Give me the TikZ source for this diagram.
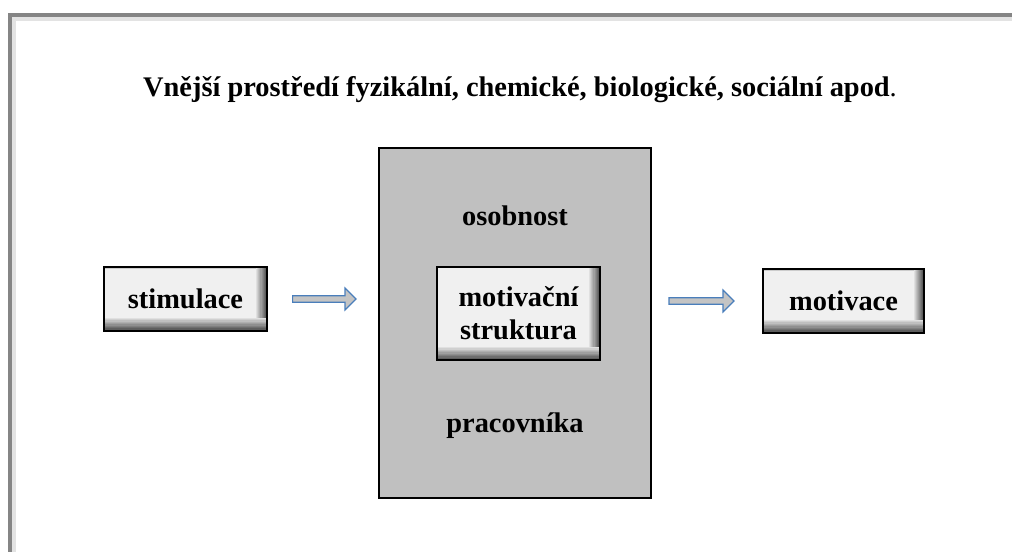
\documentclass[tikz,border=0pt]{standalone}
\usepackage{fontspec}
\setmainfont{Liberation Serif}
\usepackage[HTML]{xcolor}
\usetikzlibrary{positioning, calc}

\definecolor{bodyfill}{HTML}{C0C0C0}
\definecolor{boxfill}{HTML}{F0F0F0}
\definecolor{boxshade}{HTML}{3C3C3C}
\definecolor{arrowfill}{HTML}{C4C4C4}
\definecolor{arrowline}{HTML}{4A7EBB}
\definecolor{framegray}{HTML}{858585}

\tikzset{
  lbl/.style={font=\fontsize{21.3}{24.75}\selectfont\bfseries, align=center, inner sep=0pt},
  bevel/.style={lbl, draw=black, line width=1.2pt, fill=boxfill,
    path picture={
      \foreach \i in {1,...,10} {
        \fill[boxshade!\the\numexpr\i*9\relax!boxfill] ([xshift=-\the\numexpr11-\i\relax*0.8pt]path picture bounding box.north east) rectangle (path picture bounding box.south east);
      }
      \foreach \i in {1,...,10} {
        \fill[boxshade!\the\numexpr\i*9\relax!boxfill] ([yshift=\the\numexpr11-\i\relax*1.0pt]path picture bounding box.south west) rectangle (path picture bounding box.south east);
      }
      \fill[gray!40] ([yshift=-1.2pt]path picture bounding box.north west) rectangle ([xshift=-8pt]path picture bounding box.north east);
    }},
  flow/.style={draw=arrowline, fill=arrowfill, line width=0.9pt,
    to path={let \p1=(\tikztostart), \p2=(\tikztotarget) in
      (\x1,\y1+2.4pt) -- (\x2-8.25pt,\y1+2.4pt) -- (\x2-8.25pt,\y1+8.25pt) -- (\x2,\y1)
      -- (\x2-8.25pt,\y1-8.25pt) -- (\x2-8.25pt,\y1-2.4pt) -- (\x1,\y1-2.4pt) -- cycle}}
}

\begin{document}
\begin{tikzpicture}[x=0.75pt, y=-0.75pt]
\useasboundingbox (0,0) rectangle (1012,552);

% frame
\draw[gray!22, line width=3pt] (14,552) -- (14,19.5) -- (1012,19.5);
\draw[framegray, line width=3pt] (10,552) -- (10,15.5) -- (1012,15.5);

% title
\node[lbl, anchor=base] (env) at (520,97) {Vnější prostředí fyzikální, chemické, biologické, sociální apod\mdseries.};

% personality
\node[draw=black, line width=1.5pt, fill=bodyfill, minimum width=204pt, minimum height=262.5pt] (body) at (515,323) {};
\node[lbl, anchor=base] (top) at (515,225) {osobnost};
\node[lbl, anchor=base] (bottom) at (515,432) {pracovníka};
\node[bevel, minimum width=122pt, minimum height=70pt] (core) at (518.5,313.5) {motivační\\struktura};

% input and output
\node[bevel, minimum width=122pt, minimum height=48pt] (stim) at (185.5,299) {stimulace};
\node[bevel, minimum width=121pt, minimum height=48pt] (mot) at (843.5,301) {motivace};

\coordinate (s1) at ([xshift=18.75pt]stim.east);
\coordinate (s2) at ([xshift=-16.5pt]body.west |- s1);
\coordinate (m2) at ([xshift=-21pt]mot.west);
\coordinate (m1) at ([xshift=12.75pt]body.east |- m2);

\draw[flow] (s1) to (s2);
\draw[flow] (m1) to (m2);
\end{tikzpicture}
\end{document}
